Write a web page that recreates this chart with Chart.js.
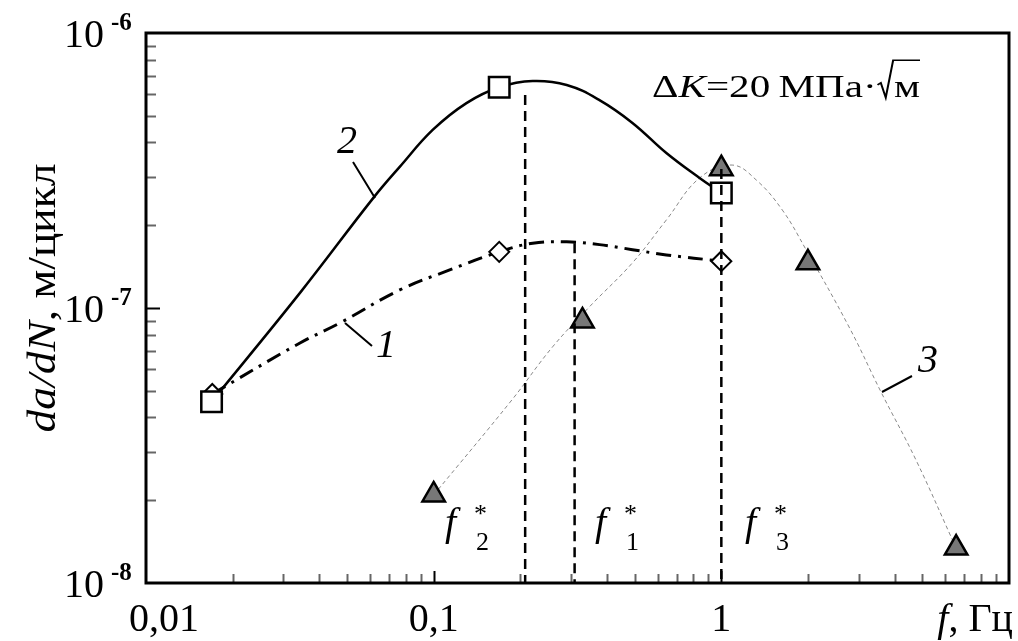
<!DOCTYPE html>
<html>
<head>
<meta charset="utf-8">
<script src="https://cdn.jsdelivr.net/npm/chart.js@4.4.1/dist/chart.umd.min.js"></script>
<style>
  html, body { margin: 0; padding: 0; background: #fff; }
</style>
</head>
<body>
<canvas id="chart" width="1018" height="641"></canvas>
<script>
// axis ticks
const xTicks = [0.01, 0.1, 1];
const xTickLabels = ['0,01', '0,1', '1'];
const yTicks = [1e-6, 1e-7, 1e-8];
const yTickExp = ['-6', '-7', '-8'];

// measured points
const squareX = [0.0169, 0.169, 1.0];
const squareY = [4.56e-8, 6.35e-7, 2.62e-7];
const diamondX = [0.017, 0.169, 1.0];
const diamondY = [4.87e-8, 1.60e-7, 1.48e-7];
const triangleX = [0.1, 0.329, 1.0, 2.0, 6.55];
const triangleY = [2.09e-8, 8.97e-8, 3.21e-7, 1.46e-7, 1.34e-8];

// fitted curves
const curve2X = [0.0169, 0.0343, 0.062, 0.0762, 0.0992, 0.130, 0.169, 0.221, 0.290, 0.377, 0.491, 0.644, 0.840, 1.0];
const curve2Y = [4.56e-8, 1.135e-7, 2.53e-7, 3.26e-7, 4.44e-7, 5.56e-7, 6.35e-7, 6.69e-7, 6.47e-7, 5.70e-7, 4.71e-7, 3.66e-7, 2.97e-7, 2.62e-7];
const curve1X = [0.017, 0.0343, 0.0472, 0.0762, 0.1137, 0.169, 0.221, 0.290, 0.377, 0.491, 0.644, 1.0];
const curve1Y = [4.87e-8, 7.46e-8, 8.82e-8, 1.163e-7, 1.375e-7, 1.60e-7, 1.72e-7, 1.74e-7, 1.70e-7, 1.63e-7, 1.56e-7, 1.48e-7];
const curve3X = [0.1, 0.187, 0.259, 0.348, 0.491, 0.644, 0.840, 1.09, 1.323, 1.63, 1.97, 2.78, 3.59, 4.75, 6.55];
const curve3Y = [2.09e-8, 4.63e-8, 7.22e-8, 1.01e-7, 1.46e-7, 2.09e-7, 2.97e-7, 3.31e-7, 2.92e-7, 2.27e-7, 1.63e-7, 8.53e-8, 4.95e-8, 2.80e-8, 1.34e-8];

// critical frequencies f2*, f1*, f3* and where their dashed lines start
const fStarX = [0.208, 0.309, 1.0];
const fStarTopY = [5.95e-7, 1.72e-7, 3.2e-7];
const fStarNames = ['2', '1', '3'];
const yMin = 1e-8;

const SERIF = '"Liberation Serif", "Times New Roman", serif';

const pts = (xs, ys) => xs.map((x, i) => ({ x: x, y: ys[i] }));

const verticals = fStarX.map((x, i) => ({
    data: pts([x, x], [fStarTopY[i], yMin]),
    borderColor: '#000',
    borderWidth: 2.5,
    borderDash: [10, 6],
    pointRadius: 0,
    tension: 0
}));

function drawRuns(ctx, parts, x, y) {
    for (const [t, f] of parts) {
        ctx.font = f;
        ctx.fillText(t, x, y);
        x += ctx.measureText(t).width;
    }
    return x;
}
function runsWidth(ctx, parts) {
    let w = 0;
    for (const [t, f] of parts) { ctx.font = f; w += ctx.measureText(t).width; }
    return w;
}

const decorations = {
    id: 'decorations',
    afterDraw(chart) {
        const ctx = chart.ctx;
        const a = chart.chartArea;
        const sx = chart.scales.x, sy = chart.scales.y;
        ctx.save();
        ctx.fillStyle = '#000';
        ctx.strokeStyle = '#000';
        ctx.lineCap = 'butt';

        // inward ticks
        for (let d = -2; d <= 0; d++) {
            for (let m = 1; m <= 9; m++) {
                const px = Math.round(sx.getPixelForValue(m * Math.pow(10, d))) + 0.5;
                if (px <= a.left + 2) continue;
                ctx.strokeStyle = m === 1 ? '#000' : '#666';
                ctx.lineWidth = 2;
                ctx.beginPath();
                ctx.moveTo(px, a.bottom);
                ctx.lineTo(px, a.bottom - (m === 1 ? 12 : 9));
                ctx.stroke();
            }
        }
        for (let d = -8; d <= -7; d++) {
            for (let m = 1; m <= 9; m++) {
                const py = Math.round(sy.getPixelForValue(m * Math.pow(10, d))) + 0.5;
                if (py >= a.bottom - 2) continue;
                ctx.strokeStyle = m === 1 ? '#000' : '#666';
                ctx.lineWidth = 2;
                ctx.beginPath();
                ctx.moveTo(a.left, py);
                ctx.lineTo(a.left + (m === 1 ? 14 : 10), py);
                ctx.stroke();
            }
        }

        // frame
        ctx.strokeStyle = '#000';
        ctx.lineWidth = 3;
        ctx.strokeRect(a.left, a.top, a.right - a.left, a.bottom - a.top);

        // y tick labels 10^n
        ctx.textBaseline = 'alphabetic';
        yTicks.forEach((v, i) => {
            const py = sy.getPixelForValue(v);
            ctx.font = '40px ' + SERIF;
            ctx.textAlign = 'right';
            ctx.fillText('10', 104, py + 14);
            ctx.font = 'bold 25px ' + SERIF;
            ctx.textAlign = 'left';
            ctx.fillText(yTickExp[i], 111, py - 3);
        });

        // x tick labels
        ctx.font = '40px ' + SERIF;
        ctx.textAlign = 'center';
        xTicks.forEach((v, i) => {
            let px = sx.getPixelForValue(v);
            if (i === 0) px += 18; // kept clear of 10^-8
            ctx.fillText(xTickLabels[i], px, 631);
        });
        ctx.textAlign = 'left';
        const unit = [['f', 'italic 40px ' + SERIF], [', Гц', '40px ' + SERIF]];
        drawRuns(ctx, unit, 1013 - runsWidth(ctx, unit), 631);

        // y axis title
        const title = [['da/dN', 'italic 40px ' + SERIF], [', м/цикл', '40px ' + SERIF]];
        const tw = runsWidth(ctx, title);
        ctx.save();
        ctx.translate(55, 298);
        ctx.rotate(-Math.PI / 2);
        ctx.scale(269 / tw, 1);
        drawRuns(ctx, title, -tw / 2, 0);
        ctx.restore();

        // ΔK annotation
        const s = 32;
        const dk = [['Δ', s + 'px ' + SERIF], ['K', 'italic ' + s + 'px ' + SERIF], ['=20', s + 'px ' + SERIF],
                    ['\u2009МПа', s + 'px ' + SERIF], ['·', s + 'px ' + SERIF]];
        ctx.font = s + 'px ' + SERIF;
        const mW = ctx.measureText('м').width;
        const radW = 0.42 * s;
        const natural = runsWidth(ctx, dk) + radW + mW;
        ctx.save();
        ctx.translate(652, 97);
        ctx.scale(268 / natural, 1);
        let cx = drawRuns(ctx, dk, 0, 0);
        ctx.lineWidth = 1.6;
        ctx.lineJoin = 'miter';
        ctx.beginPath();
        ctx.moveTo(cx + 0.02 * s, -0.38 * s);
        ctx.lineTo(cx + 0.1 * s, -0.44 * s);
        ctx.lineTo(cx + 0.22 * s, 0.02 * s);
        ctx.lineTo(cx + 0.40 * s, -1.15 * s);
        ctx.lineTo(cx + radW + mW, -1.15 * s);
        ctx.stroke();
        ctx.font = s + 'px ' + SERIF;
        ctx.fillText('м', cx + radW, 0);
        ctx.restore();

        // curve numbers with leaders
        ctx.font = 'italic 40px ' + SERIF;
        ctx.fillText('2', 337, 153);
        ctx.fillText('1', 376, 357);
        ctx.fillText('3', 918, 372);
        ctx.lineWidth = 2;
        ctx.beginPath();
        ctx.moveTo(353, 162); ctx.lineTo(375, 198);
        ctx.moveTo(345, 323); ctx.lineTo(372, 346);
        ctx.moveTo(882, 392); ctx.lineTo(912, 376);
        ctx.stroke();

        // f* labels
        const fPos = [445, 595, 745];
        fPos.forEach((x, i) => {
            ctx.font = 'italic 40px ' + SERIF;
            ctx.fillText('f', x, 535);
            ctx.font = '26px ' + SERIF;
            ctx.fillText('*', x + 29, 522);
            ctx.fillText(fStarNames[i], x + 31, 550);
        });
        ctx.restore();
    }
};

new Chart(document.getElementById('chart'), {
    type: 'line',
    data: {
        datasets: [
            ...verticals,
            {
                data: pts(triangleX, triangleY), showLine: false,
                pointStyle: 'triangle', pointRadius: 13,
                pointBackgroundColor: '#777', pointBorderColor: '#000', pointBorderWidth: 2.5
            },
            {
                data: pts(squareX, squareY), showLine: false,
                pointStyle: 'rect', pointRadius: 14.5,
                pointBackgroundColor: '#fff', pointBorderColor: '#000', pointBorderWidth: 2.5
            },
            {
                data: pts(diamondX, diamondY), showLine: false,
                pointStyle: 'rectRot', pointRadius: 10,
                pointBackgroundColor: '#fff', pointBorderColor: '#000', pointBorderWidth: 2
            },
            {
                data: pts(curve2X, curve2Y), borderColor: '#000', borderWidth: 2.5,
                pointRadius: 0, tension: 0.4
            },
            {
                data: pts(curve1X, curve1Y), borderColor: '#000', borderWidth: 3,
                borderDash: [15, 7, 3, 7], pointRadius: 0, tension: 0.4
            },
            {
                data: pts(curve3X, curve3Y), borderColor: '#888', borderWidth: 1,
                borderDash: [4, 3], pointRadius: 0, tension: 0.4
            }
        ]
    },
    options: {
        responsive: false,
        animation: false,
        layout: { autoPadding: false, padding: { left: 146, top: 33, right: 9, bottom: 58 } },
        plugins: { legend: { display: false }, tooltip: { enabled: false } },
        scales: {
            x: { type: 'logarithmic', min: 0.01, max: 10, display: false },
            y: { type: 'logarithmic', min: 1e-8, max: 1e-6, display: false }
        }
    },
    plugins: [decorations]
});
</script>
</body>
</html>
